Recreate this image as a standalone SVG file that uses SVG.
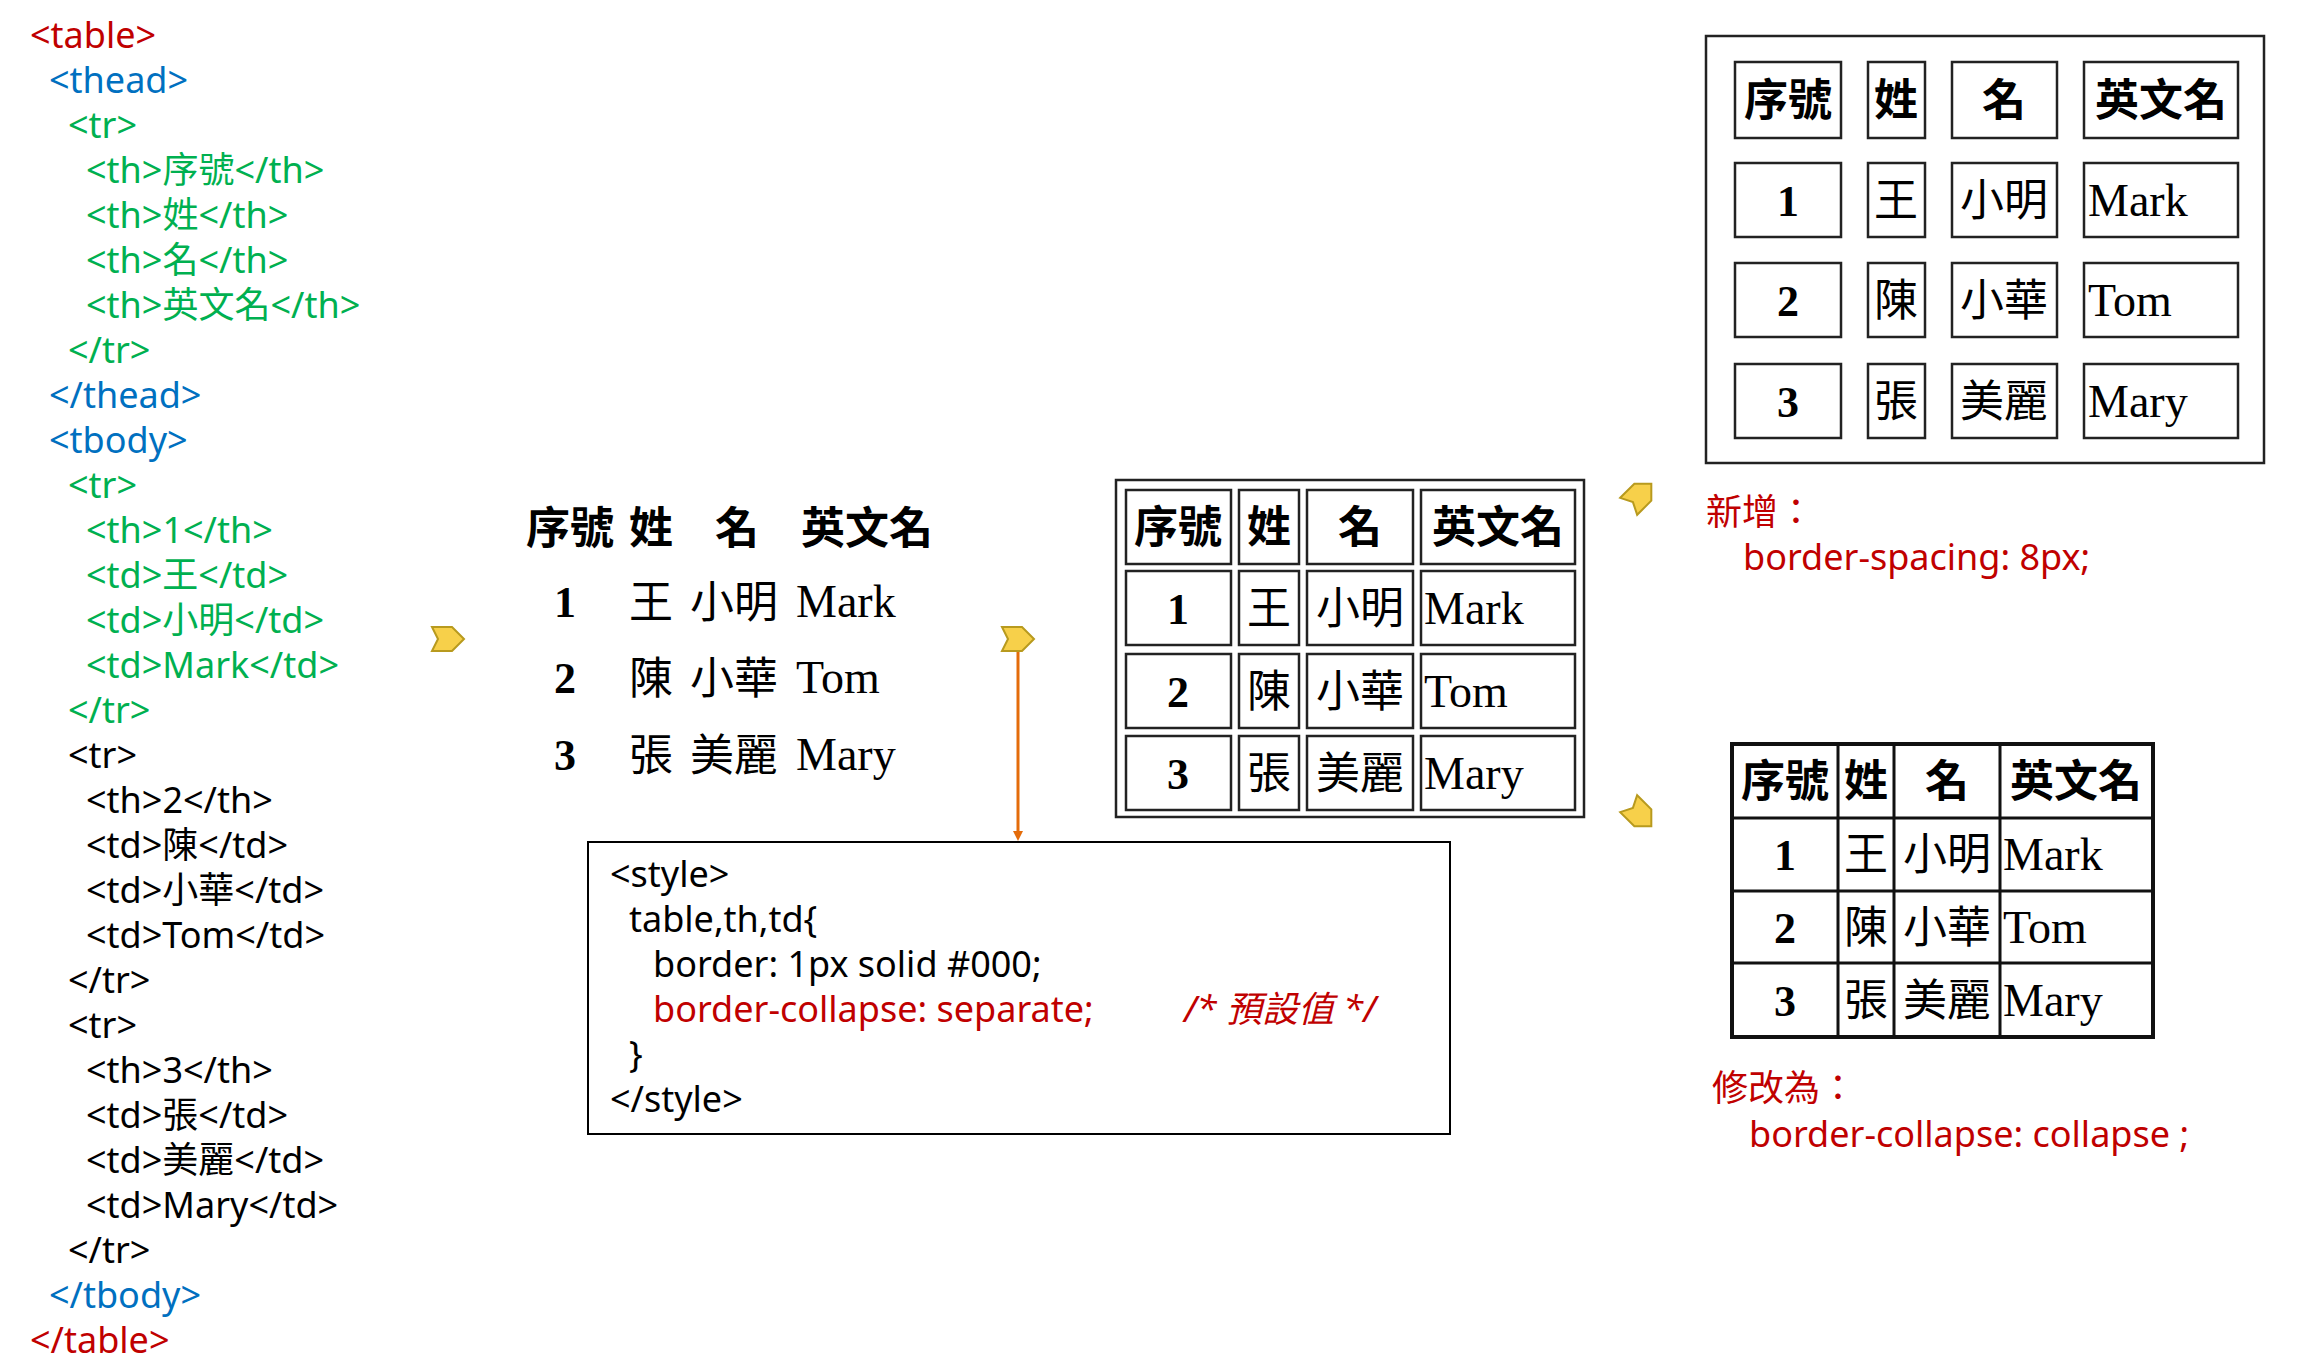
<svg xmlns="http://www.w3.org/2000/svg" width="2312" height="1367" viewBox="0 0 2312 1367">
<style>
.c{font-family:"Noto Sans","Noto Sans CJK TC",sans-serif;font-size:36px}
.r{fill:#C00000}.b{fill:#0070C0}.g{fill:#00B050}.k{fill:#000}
.hd{font-family:"Noto Sans CJK TC",sans-serif;font-weight:bold;font-size:44px;text-anchor:middle;fill:#000}
.nm{font-family:"Liberation Serif",serif;font-weight:bold;font-size:44px;text-anchor:middle;fill:#000}
.cj{font-family:"Noto Sans CJK TC",sans-serif;font-size:44px;text-anchor:middle;fill:#000}
.en{font-family:"Liberation Serif",serif;font-size:46px;fill:#000}
.cell{fill:none;stroke:#222;stroke-width:2.5}
.arr{fill:#F7D04A;stroke:#B89A1E;stroke-width:2}
.lab{font-family:"Noto Sans","Noto Sans CJK TC",sans-serif;font-size:36px;fill:#C00000}
</style>
<defs>
<polygon id="ya" class="arr" points="-16,-12 4,-12 16,0 4,12 -16,12 -10,0"/>
<marker id="oh" markerWidth="10" markerHeight="10" refX="5" refY="5" orient="auto" markerUnits="userSpaceOnUse"><path d="M0,0 L10,5 L0,10 Z" fill="#E46C0A"/></marker>
</defs>
<g id="code">
<text class="c r" x="30" y="48">&lt;table&gt;</text>
<text class="c b" x="49" y="93">&lt;thead&gt;</text>
<text class="c g" x="68" y="138">&lt;tr&gt;</text>
<text class="c g" x="86" y="183">&lt;th&gt;序號&lt;/th&gt;</text>
<text class="c g" x="86" y="228">&lt;th&gt;姓&lt;/th&gt;</text>
<text class="c g" x="86" y="273">&lt;th&gt;名&lt;/th&gt;</text>
<text class="c g" x="86" y="318">&lt;th&gt;英文名&lt;/th&gt;</text>
<text class="c g" x="68" y="363">&lt;/tr&gt;</text>
<text class="c b" x="49" y="408">&lt;/thead&gt;</text>
<text class="c b" x="49" y="453">&lt;tbody&gt;</text>
<text class="c g" x="68" y="498">&lt;tr&gt;</text>
<text class="c g" x="86" y="543">&lt;th&gt;1&lt;/th&gt;</text>
<text class="c g" x="86" y="588">&lt;td&gt;王&lt;/td&gt;</text>
<text class="c g" x="86" y="633">&lt;td&gt;小明&lt;/td&gt;</text>
<text class="c g" x="86" y="678">&lt;td&gt;Mark&lt;/td&gt;</text>
<text class="c g" x="68" y="723">&lt;/tr&gt;</text>
<text class="c k" x="68" y="768">&lt;tr&gt;</text>
<text class="c k" x="86" y="813">&lt;th&gt;2&lt;/th&gt;</text>
<text class="c k" x="86" y="858">&lt;td&gt;陳&lt;/td&gt;</text>
<text class="c k" x="86" y="903">&lt;td&gt;小華&lt;/td&gt;</text>
<text class="c k" x="86" y="948">&lt;td&gt;Tom&lt;/td&gt;</text>
<text class="c k" x="68" y="993">&lt;/tr&gt;</text>
<text class="c k" x="68" y="1038">&lt;tr&gt;</text>
<text class="c k" x="86" y="1083">&lt;th&gt;3&lt;/th&gt;</text>
<text class="c k" x="86" y="1128">&lt;td&gt;張&lt;/td&gt;</text>
<text class="c k" x="86" y="1173">&lt;td&gt;美麗&lt;/td&gt;</text>
<text class="c k" x="86" y="1218">&lt;td&gt;Mary&lt;/td&gt;</text>
<text class="c k" x="68" y="1263">&lt;/tr&gt;</text>
<text class="c b" x="49" y="1308">&lt;/tbody&gt;</text>
<text class="c r" x="30" y="1353">&lt;/table&gt;</text>
</g>
<g id="plain">
<text class="hd" x="570" y="544">序號</text><text class="hd" x="651" y="544">姓</text><text class="hd" x="737" y="544">名</text><text class="hd" x="867" y="544">英文名</text>
<text class="nm" x="565" y="617">1</text><text class="cj" x="651" y="618">王</text><text class="cj" x="734" y="618">小明</text><text class="en" x="796" y="617">Mark</text>
<text class="nm" x="565" y="693">2</text><text class="cj" x="651" y="694">陳</text><text class="cj" x="734" y="694">小華</text><text class="en" x="796" y="693">Tom</text>
<text class="nm" x="565" y="770">3</text><text class="cj" x="651" y="771">張</text><text class="cj" x="734" y="771">美麗</text><text class="en" x="796" y="770">Mary</text>
</g>
<g id="sepTable">
<rect class="cell" x="1116" y="480" width="468" height="337"/>
<g class="cells">
<rect class="cell" x="1126" y="490" width="105" height="74"/><rect class="cell" x="1239" y="490" width="60" height="74"/><rect class="cell" x="1307" y="490" width="106" height="74"/><rect class="cell" x="1421" y="490" width="154" height="74"/>
<rect class="cell" x="1126" y="571" width="105" height="74"/><rect class="cell" x="1239" y="571" width="60" height="74"/><rect class="cell" x="1307" y="571" width="106" height="74"/><rect class="cell" x="1421" y="571" width="154" height="74"/>
<rect class="cell" x="1126" y="654" width="105" height="74"/><rect class="cell" x="1239" y="654" width="60" height="74"/><rect class="cell" x="1307" y="654" width="106" height="74"/><rect class="cell" x="1421" y="654" width="154" height="74"/>
<rect class="cell" x="1126" y="736" width="105" height="74"/><rect class="cell" x="1239" y="736" width="60" height="74"/><rect class="cell" x="1307" y="736" width="106" height="74"/><rect class="cell" x="1421" y="736" width="154" height="74"/>
</g>
<text class="hd" x="1178" y="543">序號</text><text class="hd" x="1269" y="543">姓</text><text class="hd" x="1360" y="543">名</text><text class="hd" x="1498" y="543">英文名</text>
<text class="nm" x="1178" y="624">1</text><text class="cj" x="1269" y="624">王</text><text class="cj" x="1360" y="624">小明</text><text class="en" x="1424" y="624">Mark</text>
<text class="nm" x="1178" y="707">2</text><text class="cj" x="1269" y="707">陳</text><text class="cj" x="1360" y="707">小華</text><text class="en" x="1424" y="707">Tom</text>
<text class="nm" x="1178" y="789">3</text><text class="cj" x="1269" y="789">張</text><text class="cj" x="1360" y="789">美麗</text><text class="en" x="1424" y="789">Mary</text>
</g>
<g id="spacingTable">
<rect class="cell" x="1706" y="36" width="558" height="427"/>
<rect class="cell" x="1735" y="62" width="106" height="76"/><rect class="cell" x="1868" y="62" width="57" height="76"/><rect class="cell" x="1952" y="62" width="105" height="76"/><rect class="cell" x="2084" y="62" width="154" height="76"/>
<rect class="cell" x="1735" y="163" width="106" height="74"/><rect class="cell" x="1868" y="163" width="57" height="74"/><rect class="cell" x="1952" y="163" width="105" height="74"/><rect class="cell" x="2084" y="163" width="154" height="74"/>
<rect class="cell" x="1735" y="263" width="106" height="74"/><rect class="cell" x="1868" y="263" width="57" height="74"/><rect class="cell" x="1952" y="263" width="105" height="74"/><rect class="cell" x="2084" y="263" width="154" height="74"/>
<rect class="cell" x="1735" y="364" width="106" height="74"/><rect class="cell" x="1868" y="364" width="57" height="74"/><rect class="cell" x="1952" y="364" width="105" height="74"/><rect class="cell" x="2084" y="364" width="154" height="74"/>
<text class="hd" x="1788" y="116">序號</text><text class="hd" x="1896" y="116">姓</text><text class="hd" x="2004" y="116">名</text><text class="hd" x="2161" y="116">英文名</text>
<text class="nm" x="1788" y="216">1</text><text class="cj" x="1896" y="216">王</text><text class="cj" x="2004" y="216">小明</text><text class="en" x="2088" y="216">Mark</text>
<text class="nm" x="1788" y="316">2</text><text class="cj" x="1896" y="316">陳</text><text class="cj" x="2004" y="316">小華</text><text class="en" x="2088" y="316">Tom</text>
<text class="nm" x="1788" y="417">3</text><text class="cj" x="1896" y="417">張</text><text class="cj" x="2004" y="417">美麗</text><text class="en" x="2088" y="417">Mary</text>
</g>
<g id="collapseTable">
<rect x="1732" y="744" width="421" height="293" fill="none" stroke="#111" stroke-width="4"/>
<path d="M1838,744V1037M1894,744V1037M2000,744V1037M1732,818H2153M1732,891H2153M1732,963H2153" stroke="#111" stroke-width="3" fill="none"/>
<text class="hd" x="1785" y="797">序號</text><text class="hd" x="1866" y="797">姓</text><text class="hd" x="1947" y="797">名</text><text class="hd" x="2076" y="797">英文名</text>
<text class="nm" x="1785" y="870">1</text><text class="cj" x="1866" y="870">王</text><text class="cj" x="1947" y="870">小明</text><text class="en" x="2003" y="870">Mark</text>
<text class="nm" x="1785" y="943">2</text><text class="cj" x="1866" y="943">陳</text><text class="cj" x="1947" y="943">小華</text><text class="en" x="2003" y="943">Tom</text>
<text class="nm" x="1785" y="1016">3</text><text class="cj" x="1866" y="1016">張</text><text class="cj" x="1947" y="1016">美麗</text><text class="en" x="2003" y="1016">Mary</text>
</g>
<g id="styleBox">
<rect x="588" y="842" width="862" height="292" fill="#fff" stroke="#000" stroke-width="2"/>
<text class="c k" x="610" y="887">&lt;style&gt;</text>
<text class="c k" x="629" y="932">table,th,td{</text>
<text class="c k" x="653" y="977">border: 1px solid #000;</text>
<text class="c r" x="653" y="1022">border-collapse: separate;</text>
<text class="c r" x="1184" y="1022" font-style="italic">/* 預設值 */</text>
<text class="c k" x="629" y="1067">}</text>
<text class="c k" x="610" y="1112">&lt;/style&gt;</text>
</g>
<g id="labels">
<text class="lab" x="1706" y="525">新增：</text>
<text class="lab" x="1743" y="570">border-spacing: 8px;</text>
<text class="lab" x="1712" y="1101">修改為：</text>
<text class="lab" x="1749" y="1147">border-collapse: collapse ;</text>
</g>
<g id="connectors">
<use href="#ya" transform="translate(448,639)"/>
<use href="#ya" transform="translate(1018,639)"/>
<use href="#ya" transform="translate(1640,495) rotate(-45)"/>
<use href="#ya" transform="translate(1640,815) rotate(45)"/>
<line x1="1018" y1="652" x2="1018" y2="836" stroke="#E46C0A" stroke-width="3" marker-end="url(#oh)"/>
</g>
</svg>
